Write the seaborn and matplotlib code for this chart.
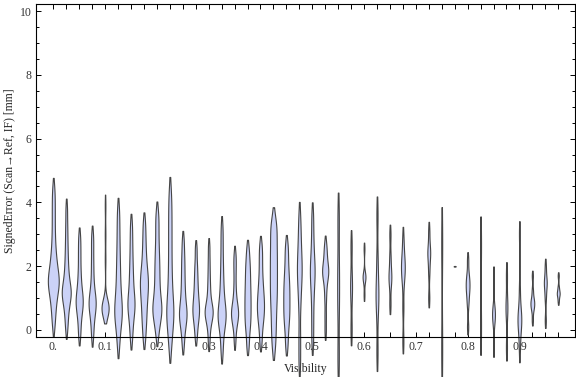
import numpy as np
import pandas as pd
import matplotlib
matplotlib.use("Agg")
import matplotlib.pyplot as plt
from matplotlib.ticker import MultipleLocator
import seaborn as sns

# ---- data: SignedError samples (mm) per Visibility bin ----
e_0000 = [0.14, 0.45, 0.7, 0.9, 1.05, 1.2, 1.3, 1.4, 1.48, 1.55, 1.63, 1.72, 1.82, 1.95, 2.1, 2.25, 2.45, 2.7, 3.0, 3.35, 3.7, 4.05, 4.42]
e_0025 = [0.04, 0.35, 0.6, 0.78, 0.92, 1.03, 1.13, 1.18, 1.23, 1.33, 1.45, 1.6, 1.78, 2.0, 2.25, 2.55, 2.9, 3.3, 3.8]
e_0050 = [-0.19, 0.15, 0.42, 0.6, 0.73, 0.84, 0.94, 1.05, 1.18, 1.35, 1.58, 1.85, 2.2, 2.55, 2.92]
e_0075 = [-0.22, 0.12, 0.38, 0.55, 0.68, 0.79, 0.88, 0.98, 1.1, 1.28, 1.52, 1.85, 2.2, 2.6, 2.97]
e_0100 = [0.55, 0.6, 0.62, 0.63, 0.65, 0.67, 0.69, 0.7, 0.71, 0.74, 0.78, 0.85, 2.2, 3.0, 3.9]
e_0125 = [-0.48, -0.05, 0.2, 0.38, 0.52, 0.65, 0.8, 0.98, 1.2, 1.45, 1.75, 2.05, 2.4, 2.8, 3.25, 3.74]
e_0150 = [-0.27, 0.1, 0.38, 0.56, 0.7, 0.82, 0.95, 1.1, 1.3, 1.55, 1.8, 2.1, 2.45, 2.85, 3.3]
e_0175 = [-0.27, 0.1, 0.35, 0.58, 0.8, 0.98, 1.15, 1.3, 1.43, 1.56, 1.7, 1.86, 2.05, 2.3, 2.6, 2.95, 3.36]
e_0200 = [-0.15, 0.15, 0.35, 0.48, 0.58, 0.67, 0.77, 0.9, 1.05, 1.25, 1.45, 1.68, 1.9, 2.12, 2.38, 2.65, 3.0, 3.35, 3.67]
e_0225 = [-0.53, -0.1, 0.2, 0.4, 0.55, 0.72, 0.95, 1.25, 1.6, 2.0, 2.45, 2.9, 3.35, 3.8, 4.3]
e_0250 = [-0.46, -0.1, 0.12, 0.28, 0.4, 0.5, 0.6, 0.72, 0.88, 1.08, 1.3, 1.55, 1.82, 2.1, 2.4, 2.8]
e_0275 = [-0.22, 0.1, 0.3, 0.45, 0.57, 0.68, 0.8, 0.95, 1.12, 1.32, 1.55, 1.8, 2.1, 2.55]
e_0300 = [-0.4, -0.05, 0.18, 0.32, 0.43, 0.48, 0.53, 0.63, 0.7, 0.75, 0.9, 1.08, 1.3, 1.55, 1.85, 2.2, 2.62]
e_0325 = [-0.7, -0.3, 0.0, 0.18, 0.3, 0.4, 0.5, 0.6, 0.72, 0.88, 1.08, 1.32, 1.6, 1.92, 2.3, 2.75, 3.22]
e_0350 = [-0.36, 0.0, 0.2, 0.33, 0.42, 0.5, 0.58, 0.67, 0.78, 0.93, 1.15, 1.45, 1.8, 2.1, 2.38]
e_0375 = [-0.48, -0.05, 0.2, 0.4, 0.6, 0.8, 1.0, 1.2, 1.42, 1.65, 1.9, 2.15, 2.52]
e_0400 = [-0.38, 0.0, 0.25, 0.42, 0.56, 0.7, 0.83, 0.97, 1.12, 1.3, 1.5, 1.75, 2.05, 2.35, 2.66]
e_0425 = [-0.53, -0.1, 0.25, 0.6, 0.9, 1.15, 1.4, 1.65, 1.9, 2.15, 2.4, 2.65, 2.95, 3.2, 3.44]
e_0450 = [-0.48, -0.05, 0.25, 0.45, 0.65, 0.85, 1.05, 1.25, 1.45, 1.68, 1.95, 2.3, 2.66]
e_0475 = [-1.0, -0.2, 0.75, 1.3, 1.65, 1.9, 2.15, 2.5, 2.95, 3.51]
e_0500 = [-0.35, 0.3, 0.9, 1.35, 1.65, 1.88, 2.1, 2.45, 2.95, 3.57]
e_0525 = [-0.04, 0.45, 0.95, 1.3, 1.55, 1.72, 1.78, 1.85, 1.95, 2.08, 2.25, 2.48, 2.69]
e_0550 = [-0.9, 0.8, 1.9, 3.5]
e_0575 = [0.0, 1.1, 1.6, 2.65]
e_0600 = [1.1, 1.55, 1.63, 1.69, 1.77, 2.55]
e_0625 = [-0.7, 0.6, 1.1, 1.35, 2.2, 3.6]
e_0650 = [0.8, 1.45, 1.65, 1.85, 2.3, 3.0]
e_0675 = [-0.35, 0.7, 1.5, 1.8, 1.95, 2.1, 2.35, 2.85]
e_0725 = [1.0, 1.8, 2.25, 2.42, 2.6, 3.1]
e_0750 = [-0.59, 2.69]
e_0775 = [1.99, 1.995, 2.0, 2.005]
e_0800 = [0.1, 0.8, 1.1, 1.28, 1.42, 1.56, 1.75, 2.2]
e_0825 = [0.12, 2.66]
e_0850 = [-0.55, 0.25, 0.42, 0.55, 0.7, 1.7]
e_0875 = [-0.55, 0.55, 0.85, 1.72]
e_0900 = [-0.6, 0.0, 0.2, 0.32, 0.45, 0.62, 1.3, 3.0]
e_0925 = [0.3, 0.62, 0.74, 0.82, 0.9, 1.0, 1.25, 1.7]
e_0950 = [0.3, 1.0, 1.35, 1.48, 1.62, 2.0]
e_0975 = [0.9, 1.08, 1.14, 1.2, 1.35, 1.7]

visibility = [0.0, 0.025, 0.05, 0.075, 0.1, 0.125, 0.15, 0.175, 0.2, 0.225,
              0.25, 0.275, 0.3, 0.325, 0.35, 0.375, 0.4, 0.425, 0.45, 0.475,
              0.5, 0.525, 0.55, 0.575, 0.6, 0.625, 0.65, 0.675, 0.725, 0.75,
              0.775, 0.8, 0.825, 0.85, 0.875, 0.9, 0.925, 0.95, 0.975]
samples = [e_0000, e_0025, e_0050, e_0075, e_0100, e_0125, e_0150, e_0175, e_0200, e_0225,
           e_0250, e_0275, e_0300, e_0325, e_0350, e_0375, e_0400, e_0425, e_0450, e_0475,
           e_0500, e_0525, e_0550, e_0575, e_0600, e_0625, e_0650, e_0675, e_0725, e_0750,
           e_0775, e_0800, e_0825, e_0850, e_0875, e_0900, e_0925, e_0950, e_0975]

bin_ticks = [round(0.025 * i, 3) for i in range(40)]
label_values = [0.0, 0.1, 0.2, 0.3, 0.4, 0.5, 0.6, 0.7, 0.8, 0.9]
label_texts = ["0.", "0.1", "0.2", "0.3", "0.4", "0.5", "0.6", "0.7", "0.8", "0.9"]
y_ticks = [0, 2, 4, 6, 8, 10]

df = pd.DataFrame(
    [(v, s) for v, arr in zip(visibility, samples) for s in arr],
    columns=["Visibility", "SignedError"],
)

sns.set_style("ticks")
plt.rcParams["font.family"] = ["Liberation Serif", "DejaVu Serif"]

fig = plt.figure(figsize=(5.76, 3.77), dpi=100)
ax = fig.add_axes([0.0625, 0.1053, 0.9358, 0.8832])

sns.violinplot(
    data=df, x="Visibility", y="SignedError", native_scale=True,
    density_norm="count", bw_method="scott", bw_adjust=0.48, cut=1.2,
    gridsize=300, inner=None, width=0.84, color="#cbd2f7", saturation=1,
    linecolor="#454545", linewidth=0.8, ax=ax,
)
for c in ax.collections:
    c.set_clip_on(False)

ax.set_xlim(-0.0334, 1.0074)
ax.set_ylim(-0.229, 10.21)

ax.set_xticks(bin_ticks)
lab_map = {round(v, 3): t for v, t in zip(label_values, label_texts)}
ax.set_xticklabels([lab_map.get(t, "") for t in bin_ticks])
ax.set_yticks(y_ticks)
ax.set_yticklabels([str(t) for t in y_ticks])
ax.yaxis.set_minor_locator(MultipleLocator(0.5))

ax.tick_params(which="both", direction="in", top=True, right=True,
               width=0.7, color="black", labelsize=8.5, labelcolor="#333333")
ax.tick_params(which="major", length=3.3, pad=3)
ax.tick_params(which="minor", length=2.0)
for s in ax.spines.values():
    s.set_linewidth(0.8)
    s.set_color("black")

ax.set_xlabel("Visibility", fontsize=8.5, labelpad=7)
ax.set_ylabel("SignedError (Scan\u2192Ref, IF) [mm]", fontsize=8.5, labelpad=3)
ax.grid(False)

fig.savefig("out.png", dpi=100)
